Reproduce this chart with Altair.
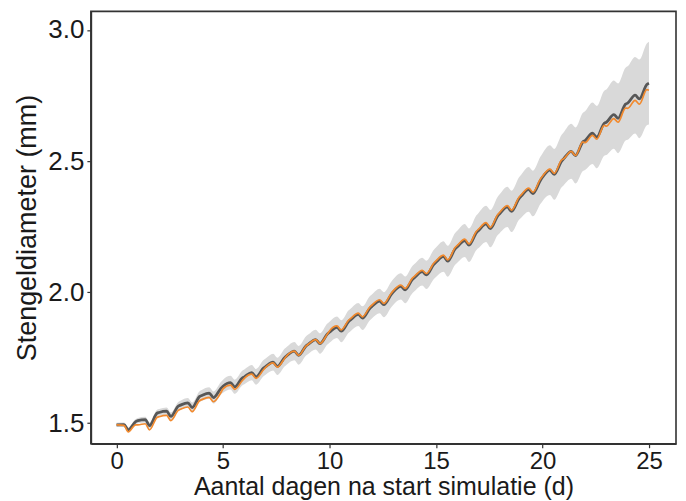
import altair as alt
import pandas as pd

# time (days) – four points per simulated day
t = [0.0, 0.35, 0.55, 0.9, 1.0, 1.35, 1.55, 1.9, 2.0, 2.35, 2.55, 2.9,
     3.0, 3.35, 3.55, 3.9, 4.0, 4.35, 4.55, 4.9, 5.0, 5.35, 5.55, 5.9,
     6.0, 6.35, 6.55, 6.9, 7.0, 7.35, 7.55, 7.9, 8.0, 8.35, 8.55, 8.9,
     9.0, 9.35, 9.55, 9.9, 10.0, 10.35, 10.55, 10.9, 11.0, 11.35, 11.55, 11.9,
     12.0, 12.35, 12.55, 12.9, 13.0, 13.35, 13.55, 13.9, 14.0, 14.35, 14.55, 14.9,
     15.0, 15.35, 15.55, 15.9, 16.0, 16.35, 16.55, 16.9, 17.0, 17.35, 17.55, 17.9,
     18.0, 18.35, 18.55, 18.9, 19.0, 19.35, 19.55, 19.9, 20.0, 20.35, 20.55, 20.9,
     21.0, 21.35, 21.55, 21.9, 22.0, 22.35, 22.55, 22.9, 23.0, 23.35, 23.55, 23.9,
     24.0, 24.35, 24.55, 24.9, 25.0]

# measured mean stem diameter (dark grey)
gemeten = [1.494, 1.495, 1.475, 1.506, 1.510, 1.514, 1.491, 1.538, 1.541, 1.546, 1.526, 1.565,
           1.569, 1.578, 1.560, 1.602, 1.606, 1.615, 1.598, 1.633, 1.641, 1.655, 1.639, 1.672,
           1.677, 1.693, 1.677, 1.710, 1.716, 1.733, 1.717, 1.751, 1.758, 1.775, 1.759, 1.795,
           1.801, 1.819, 1.804, 1.840, 1.847, 1.866, 1.851, 1.888, 1.895, 1.915, 1.901, 1.939,
           1.946, 1.966, 1.952, 1.991, 2.001, 2.022, 2.009, 2.049, 2.056, 2.078, 2.066, 2.106,
           2.114, 2.136, 2.118, 2.165, 2.173, 2.197, 2.179, 2.227, 2.235, 2.260, 2.242, 2.291,
           2.300, 2.325, 2.308, 2.357, 2.366, 2.392, 2.376, 2.426, 2.438, 2.465, 2.449, 2.500,
           2.509, 2.537, 2.521, 2.573, 2.578, 2.606, 2.591, 2.644, 2.648, 2.677, 2.663, 2.717,
           2.721, 2.751, 2.737, 2.792, 2.797]

# simulated stem diameter (orange)
gesimuleerd = [1.494, 1.492, 1.467, 1.494, 1.494, 1.498, 1.475, 1.522, 1.525, 1.530, 1.510, 1.549,
               1.553, 1.562, 1.544, 1.586, 1.590, 1.599, 1.582, 1.617, 1.631, 1.645, 1.629, 1.662,
               1.671, 1.687, 1.671, 1.704, 1.713, 1.730, 1.714, 1.748, 1.758, 1.775, 1.759, 1.795,
               1.801, 1.819, 1.804, 1.840, 1.852, 1.871, 1.856, 1.893, 1.900, 1.920, 1.906, 1.944,
               1.951, 1.971, 1.957, 1.996, 2.006, 2.027, 2.014, 2.054, 2.061, 2.083, 2.071, 2.111,
               2.119, 2.141, 2.123, 2.170, 2.178, 2.202, 2.184, 2.232, 2.240, 2.265, 2.247, 2.296,
               2.305, 2.330, 2.313, 2.362, 2.371, 2.397, 2.381, 2.431, 2.442, 2.469, 2.453, 2.504,
               2.509, 2.537, 2.521, 2.573, 2.570, 2.598, 2.583, 2.636, 2.633, 2.662, 2.648, 2.702,
               2.701, 2.731, 2.717, 2.772, 2.770]

# half width of the grey uncertainty band
spreiding = [0.008, 0.008, 0.009, 0.010, 0.010, 0.011, 0.012, 0.013, 0.013, 0.014, 0.015, 0.016,
             0.017, 0.018, 0.019, 0.020, 0.021, 0.022, 0.023, 0.024, 0.025, 0.026, 0.027, 0.028,
             0.028, 0.029, 0.030, 0.031, 0.031, 0.032, 0.033, 0.034, 0.034, 0.035, 0.036, 0.037,
             0.037, 0.038, 0.039, 0.040, 0.040, 0.041, 0.042, 0.043, 0.043, 0.044, 0.045, 0.046,
             0.046, 0.047, 0.048, 0.049, 0.049, 0.050, 0.051, 0.052, 0.052, 0.053, 0.054, 0.056,
             0.056, 0.058, 0.059, 0.061, 0.061, 0.063, 0.064, 0.066, 0.067, 0.069, 0.071, 0.073,
             0.074, 0.077, 0.079, 0.081, 0.082, 0.085, 0.087, 0.090, 0.091, 0.095, 0.097, 0.100,
             0.101, 0.105, 0.107, 0.111, 0.112, 0.117, 0.119, 0.124, 0.125, 0.130, 0.133, 0.139,
             0.140, 0.146, 0.150, 0.156, 0.158]

x_ticks = [0, 5, 10, 15, 20, 25]
y_ticks = [1.5, 2.0, 2.5, 3.0]

df = pd.DataFrame({"t": t, "gemeten": gemeten, "gesimuleerd": gesimuleerd, "sd": spreiding})
df["onder"] = df["gemeten"] - df["sd"]
df["boven"] = df["gemeten"] + df["sd"]

FONT = "Liberation Sans"
XT = "Aantal dagen na start simulatie (d)"
YT = "Stengeldiameter (mm)"

xs = alt.Scale(domain=[-1.205, 26.27], nice=False, zero=False)
ys = alt.Scale(domain=[1.4219, 3.0708], nice=False, zero=False)
xa = alt.Axis(values=x_ticks, format="d", title=XT, labelPadding=2, labelFontSize=24,
              titleFontSize=25, titlePadding=1)
ya = alt.Axis(values=y_ticks, format=".1f", title=YT, labelPadding=3, labelFontSize=26,
              titleFontSize=27, titlePadding=6)

base = alt.Chart(df)

band = base.mark_area(color="#d9d9d9", opacity=1, interpolate="monotone").encode(
    x=alt.X("t:Q", scale=xs, axis=xa),
    y=alt.Y("onder:Q", scale=ys, axis=ya),
    y2="boven:Q",
)
grey = base.mark_line(color="#575757", strokeWidth=2.8, interpolate="monotone").encode(
    x=alt.X("t:Q", scale=xs, axis=xa),
    y=alt.Y("gemeten:Q", scale=ys, axis=ya),
)
orange = base.mark_line(color="#f28a2e", strokeWidth=1.7, interpolate="monotone").encode(
    x=alt.X("t:Q", scale=xs, axis=xa),
    y=alt.Y("gesimuleerd:Q", scale=ys, axis=ya),
)

chart = alt.layer(band, grey, orange).properties(
    width=586, height=433,
    autosize=alt.AutoSizeParams(type="none"),
    padding={"left": 83, "top": 3, "right": 2, "bottom": 57},
).configure_view(
    stroke="#333333", strokeWidth=1.6
).configure_axis(
    grid=False, zindex=1,
    domainColor="#333333", domainWidth=1.6,
    tickColor="#333333", tickWidth=1.2, tickSize=4,
    labelFont=FONT, labelColor="#1a1a1a",
    titleFont=FONT, titleFontWeight="normal", titleColor="#1a1a1a",
)

chart.save("out.html", embed_options={"renderer": "svg", "actions": False})
